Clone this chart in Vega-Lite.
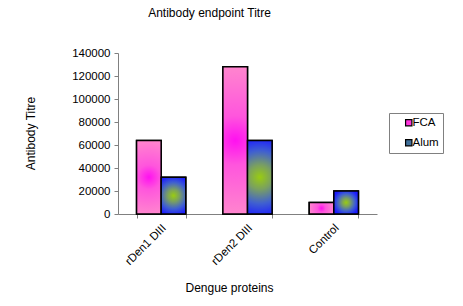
{
  "$schema": "https://vega.github.io/schema/vega-lite/v6.json",
  "autosize": "none",
  "width": 259,
  "height": 161,
  "padding": {"left": 118, "top": 53, "right": 86, "bottom": 92},
  "background": "white",
  "config": {
    "font": "Liberation Sans",
    "view": {"stroke": null}
  },
  "title": {
    "text": "Antibody endpoint Titre",
    "fontSize": 12,
    "fontWeight": "normal",
    "color": "black",
    "anchor": "middle",
    "frame": "group",
    "dx": -38,
    "offset": 27
  },
  "data": {
    "values": [
      {"protein": "rDen1 DIII", "series": "FCA", "titre": 64000},
      {"protein": "rDen1 DIII", "series": "Alum", "titre": 32000},
      {"protein": "rDen2 DIII", "series": "FCA", "titre": 128000},
      {"protein": "rDen2 DIII", "series": "Alum", "titre": 64000},
      {"protein": "Control", "series": "FCA", "titre": 10000},
      {"protein": "Control", "series": "Alum", "titre": 20000}
    ]
  },
  "encoding": {
    "x": {
      "field": "protein",
      "type": "nominal",
      "sort": ["rDen1 DIII", "rDen2 DIII", "Control"],
      "scale": {"paddingInner": 0.43, "paddingOuter": 0.215},
      "axis": {
        "title": "Dengue proteins",
        "titleFontSize": 12,
        "titleFontWeight": "normal",
        "titleColor": "black",
        "titleX": 111,
        "titleY": 73,
        "titleBaseline": "middle",
        "titleAlign": "center",
        "labelAngle": -45,
        "labelAlign": "right",
        "labelBaseline": "middle",
        "labelPadding": 8,
        "labelOffset": 3,
        "labelFontSize": 11.5,
        "labelColor": "black",
        "tickBand": "extent",
        "tickSize": 4,
        "tickColor": "#808080",
        "domainColor": "#808080",
        "grid": false
      }
    },
    "xOffset": {"field": "series", "type": "nominal", "scale": {"domain": ["FCA", "Alum"], "paddingInner": 0, "paddingOuter": 0}},
    "y": {
      "field": "titre",
      "type": "quantitative",
      "scale": {"domain": [0, 140000], "nice": false},
      "axis": {
        "title": "Antibody Titre",
        "titleFontSize": 12,
        "titleFontWeight": "normal",
        "titleColor": "black",
        "titleX": -88,
        "titleY": 80,
        "titleAngle": -90,
        "titleAlign": "center",
        "titleBaseline": "middle",
        "values": [0, 20000, 40000, 60000, 80000, 100000, 120000, 140000],
        "format": "d",
        "labelFontSize": 11.5,
        "labelColor": "black",
        "labelPadding": 4,
        "tickSize": 4,
        "tickColor": "#808080",
        "domainColor": "#808080",
        "grid": false
      }
    }
  },
  "layer": [
    {
      "mark": {"type": "bar", "stroke": "black", "strokeWidth": 1.5},
      "encoding": {
        "color": {
          "field": "series",
          "type": "nominal",
          "scale": {"domain": ["FCA", "Alum"], "range": ["#ff33dd", "#3f6f9a"]},
          "legend": {
            "title": null,
            "orient": "none",
            "legendX": 271,
            "legendY": 60,
            "direction": "vertical",
            "strokeColor": "#808080",
            "fillColor": "white",
            "padding": 4,
            "rowPadding": 7,
            "symbolType": "square",
            "symbolSize": 40,
            "symbolOffset": 10,
            "symbolStrokeColor": "black",
            "symbolStrokeWidth": 1.2,
            "symbolOpacity": 1,
            "labelFontSize": 11.5,
            "labelColor": "black",
            "labelOffset": -2,
            "labelExpr": "datum.label + '      '",
            "offset": 0
          }
        }
      }
    },
    {
      "mark": {"type": "bar", "stroke": "black", "strokeWidth": 1.5},
      "encoding": {
        "fill": {
          "condition": {
            "test": "datum.series === 'FCA'",
            "value": {
              "gradient": "radial",
              "x1": 0.5, "y1": 0.5, "r1": 0,
              "x2": 0.5, "y2": 0.5, "r2": 0.55,
              "stops": [
                {"offset": 0, "color": "#ff10f0"},
                {"offset": 0.3, "color": "#ff55dd"},
                {"offset": 1, "color": "#ff8ccc"}
              ]
            }
          },
          "value": {
            "gradient": "radial",
            "x1": 0.5, "y1": 0.5, "r1": 0,
            "x2": 0.5, "y2": 0.5, "r2": 0.55,
            "stops": [
              {"offset": 0, "color": "#99cc11"},
              {"offset": 0.3, "color": "#7aa060"},
              {"offset": 0.65, "color": "#4060d0"},
              {"offset": 1, "color": "#1a1aff"}
            ]
          }
        }
      }
    }
  ]
}
